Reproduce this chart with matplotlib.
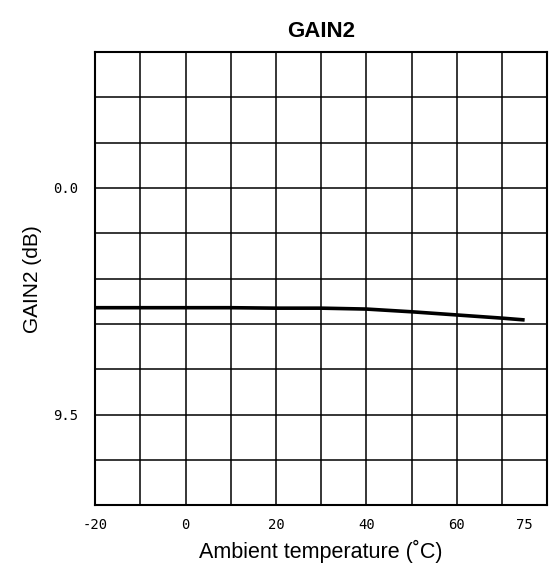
import matplotlib
matplotlib.use('Agg')
import matplotlib.pyplot as plt

# ambient temperature (C) vs GAIN2 (dB)
temp = [-20, -10, 0, 10, 20, 30, 40, 50, 60, 70, 75]
gain = [9.736, 9.736, 9.736, 9.736, 9.735, 9.735, 9.733, 9.727, 9.720, 9.713, 9.709]

x_grid = [-10, 0, 10, 20, 30, 40, 50, 60, 70]
y_grid = [9.4, 9.5, 9.6, 9.7, 9.8, 9.9, 10.0, 10.1, 10.2]
x_ticks = [-20, 0, 20, 40, 60, 75]
x_labels = ['-20', '0', '20', '40', '60', '75']
y_ticks = [10.0, 9.5]
y_labels = ['0.0', '9.5']

plt.rcParams['font.family'] = ['Liberation Sans', 'DejaVu Sans']

fig = plt.figure(figsize=(5.5, 5.83), dpi=100)
ax = fig.add_axes([0.173, 0.133, 0.822, 0.778])

for gx in x_grid:
    ax.axvline(gx, color='black', lw=1.1, zorder=1)
for gy in y_grid:
    ax.axhline(gy, color='black', lw=1.1, zorder=1)

ax.plot(temp, gain, color='black', lw=2.6, solid_capstyle='butt', zorder=3)

ax.set_xlim(-20, 80)
ax.set_ylim(9.3, 10.3)
ax.set_xticks(x_ticks)
ax.set_xticklabels(x_labels, family='DejaVu Sans Mono', fontsize=10)
ax.set_yticks(y_ticks)
ax.set_yticklabels(y_labels, family='DejaVu Sans Mono', fontsize=10)
ax.tick_params(length=0)
ax.tick_params(axis='x', pad=9)
ax.tick_params(axis='y', pad=12)
for s in ax.spines.values():
    s.set_linewidth(1.5)

ax.set_title('GAIN2', fontsize=16, fontweight='bold', pad=11)
ax.set_xlabel('Ambient temperature (\u02daC)', fontsize=15.5, labelpad=6)
ax.set_ylabel('GAIN2 (dB)', fontsize=15, labelpad=8)

fig.savefig('out.png', dpi=100)
